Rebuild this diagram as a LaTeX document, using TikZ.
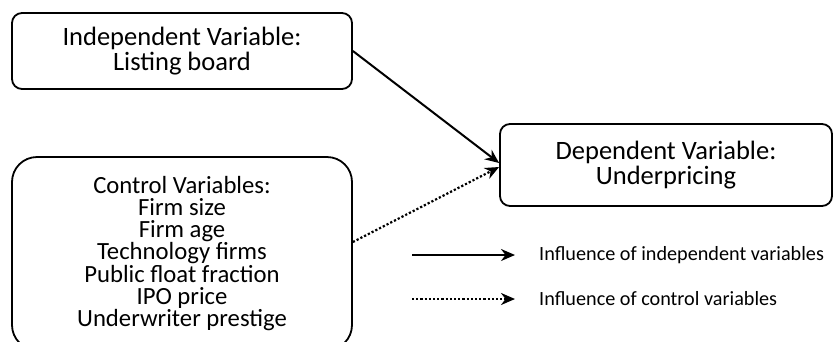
\documentclass[tikz,border=0pt]{standalone}
\usepackage{fontspec}
\setmainfont{Carlito}
\usetikzlibrary{arrows.meta}
\tikzset{
  box/.style={draw, line width=1.8pt, align=center, inner sep=0pt},
  boxtext/.style={font=\fontsize{26.5}{24.5}\selectfont},
  conn/.style={line width=2pt, -{Stealth[length=14pt,width=12pt,inset=4.5pt]}},
  dots/.style={conn, line width=2.2pt, dash pattern=on 2.2pt off 2pt},
  legtext/.style={anchor=west, inner sep=0pt, font=\fontsize{20.2}{24}\selectfont}
}
\begin{document}
\begin{tikzpicture}[x=1pt,y=-1pt]
\useasboundingbox (0,0) rectangle (833,341);
\node[box, boxtext, rounded corners=10pt, minimum width=340pt, minimum height=76pt] (ind) at (182,51) {Independent Variable:\\Listing board};
\node[box, rounded corners=25pt, minimum width=340pt, minimum height=193pt, font=\fontsize{24.7}{22.3}\selectfont] (ctrl) at (182,253.5) {Control Variables:\\Firm size\\Firm age\\Technology firms\\Public float fraction\\IPO price\\Underwriter prestige};
\node[box, boxtext, rounded corners=10pt, minimum width=332pt, minimum height=82pt] (dep) at (666,165) {Dependent Variable:\\Underpricing};
\draw[conn] (ind.east) -- ([yshift=2pt]dep.west);
\draw[dots] ([yshift=11.5pt]ctrl.east) -- ([yshift=-2pt]dep.west);
\coordinate (l1a) at (412,255);
\coordinate (l1b) at (515,255);
\coordinate (l2a) at (412,299);
\coordinate (l2b) at (515,299);
\draw[conn] (l1a) -- (l1b);
\draw[dots] (l2a) -- (l2b);
\node[legtext] (t1) at (539,255) {Influence of independent variables};
\node[legtext] (t2) at (539,299) {Influence of control variables};
\end{tikzpicture}
\end{document}
